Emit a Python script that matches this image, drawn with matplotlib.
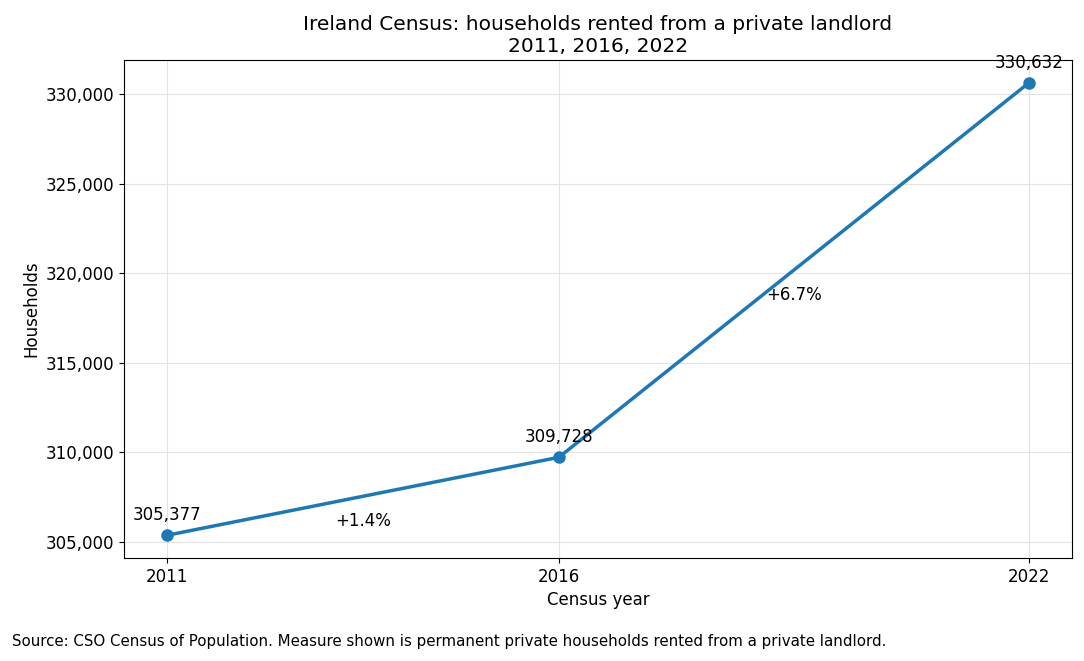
import matplotlib
matplotlib.use("Agg")
import matplotlib.pyplot as plt

years = [2011, 2016, 2022]
households = [305377, 309728, 330632]
title = "Ireland Census: households rented from a private landlord\n2011, 2016, 2022"
source = "Source: CSO Census of Population. Measure shown is permanent private households rented from a private landlord."

fig = plt.figure(figsize=(10.84, 6.61), dpi=100)
ax = fig.add_axes([0.1144, 0.156, 0.8746, 0.753])

ax.plot(years, households, marker="o", linewidth=2.5, markersize=8, color="#1f77b4")

# value labels
for x, y in zip(years, households):
    ax.annotate(f"{y:,}", (x, y), textcoords="offset points", xytext=(0, 8),
                ha="center", va="bottom", fontsize=12)

# percentage change between censuses
for i in range(len(years) - 1):
    pct = (households[i + 1] - households[i]) / households[i] * 100
    mx = (years[i] + years[i + 1]) / 2
    my = (households[i] + households[i + 1]) / 2
    ax.annotate(f"+{pct:.1f}%", (mx, my), textcoords="offset points", xytext=(0, -18),
                ha="center", va="center", fontsize=12)

ax.set_xticks(years)
ax.yaxis.set_major_formatter(matplotlib.ticker.FuncFormatter(lambda v, p: f"{int(v):,}"))
ax.tick_params(labelsize=12)
ax.set_xlabel("Census year", fontsize=12)
ax.set_ylabel("Households", fontsize=12)
ax.set_title(title, fontsize=14.5)
ax.grid(True, color="#e3e3e3", linewidth=0.8)
ax.set_axisbelow(True)

fig.text(0.011, 0.018, source, fontsize=10.8, ha="left", va="bottom")

fig.savefig("out.png", dpi=100)
